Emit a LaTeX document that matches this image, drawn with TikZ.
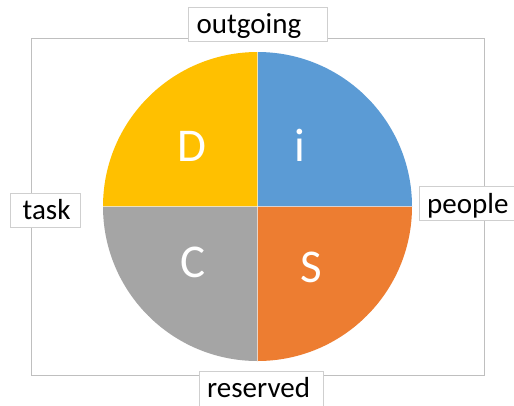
\documentclass[tikz,border=0pt]{standalone}
\usepackage{fontspec}
\setmainfont{Carlito}
\usetikzlibrary{calc}
\definecolor{discD}{HTML}{FFC000}
\definecolor{discI}{HTML}{5B9BD5}
\definecolor{discS}{HTML}{ED7D31}
\definecolor{discC}{HTML}{A5A5A5}
\definecolor{frameg}{HTML}{BFBFBF}
\definecolor{boxg}{HTML}{CFCFCF}
\begin{document}
\begin{tikzpicture}[x=1pt,y=-1pt,
  lblbox/.style={draw=boxg, line width=0.8pt, fill=white, inner sep=0pt},
  lbltext/.style={anchor=base west, inner sep=0pt, font=\fontsize{29}{31}\selectfont, text=black},
  letter/.style={anchor=base, inner sep=0pt, font=\fontsize{47}{49}\selectfont, text=white}]
\useasboundingbox (0,0) rectangle (514,405);
\fill[white] (0,0) rectangle (514,405);
% frame
\draw[frameg, line width=0.9pt] (31.7,38.7) rectangle (484.3,375.7);
% circle quadrants
\coordinate (ctr) at (257.5,206.5);
\def\R{154.5}
\fill[discI] (ctr) -- ++(\R,0) arc[start angle=0, end angle=-90, radius=\R] -- cycle;
\fill[discD] (ctr) -- ++(0,-\R) arc[start angle=-90, end angle=-180, radius=\R] -- cycle;
\fill[discC] (ctr) -- ++(-\R,0) arc[start angle=180, end angle=90, radius=\R] -- cycle;
\fill[discS] (ctr) -- ++(0,\R) arc[start angle=90, end angle=0, radius=\R] -- cycle;
\draw[white, opacity=0.5, line width=0.6pt] ($(ctr)+(-\R,0)$) -- ($(ctr)+(\R,0)$);
\draw[white, opacity=0.5, line width=0.6pt] ($(ctr)+(0,-\R)$) -- ($(ctr)+(0,\R)$);
% letters
\node[letter] (D) at (191.7,161) {D};
\node[letter] (I) at (300.3,161) {i};
\node[letter] (C) at (192.8,277.8) {C};
\node[letter] (S) at (310.8,282.8) {S};
% label boxes
\node[lblbox, minimum width=139pt, minimum height=34pt] (outbox) at (257.8,24.3) {};
\node[lbltext] (out) at (196.5,33) {outgoing};
\node[lblbox, minimum width=70.4pt, minimum height=34pt] (taskbox) at (45.5,210.3) {};
\node[lbltext] (task) at (22.5,219.5) {task};
\node[lblbox, minimum width=100pt, minimum height=33.3pt] (peoplebox) at (469.3,203.3) {};
\node[lbltext] (people) at (427,213) {people};
\node[lblbox, minimum width=124.3pt, minimum height=40pt] (resbox) at (261.2,391) {};
\node[lbltext] (res) at (207,397) {reserved};
\end{tikzpicture}
\end{document}
